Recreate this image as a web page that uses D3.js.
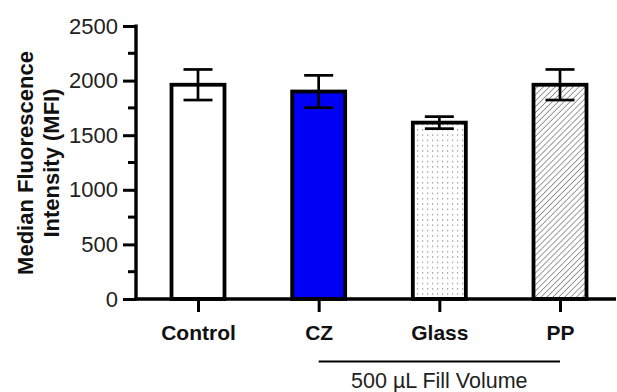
<!DOCTYPE html>
<html lang="en">
  <head>
    <meta charset="UTF-8" />
    <title>MFI by container</title>
    <style>
      body { margin: 0; background: #fff; }
      text { font-family: "Liberation Sans", Arial, sans-serif; }
    </style>
  </head>
  <body>
    <svg id="chart"></svg>
    <script src="https://cdnjs.cloudflare.com/ajax/libs/d3/7.4.4/d3.min.js"></script>
    <script>
      // values
      const categories = ["Control", "CZ", "Glass", "PP"];
      const means = [1962, 1900, 1615, 1962];
      const errors = [140, 148, 55, 140];
      const yTicks = [0, 500, 1000, 1500, 2000, 2500];
      const groupLabel = "500 µL Fill Volume";
      const groupFrom = "CZ";
      const groupTo = "PP";

      const W = 617, H = 392;
      const svg = d3.select("#chart").attr("width", W).attr("height", H);

      const defs = svg.append("defs");
      // dotted fill for glass
      const dots = defs.append("pattern").attr("id", "dots")
        .attr("patternUnits", "userSpaceOnUse").attr("width", 5).attr("height", 5.3);
      dots.append("rect").attr("width", 5).attr("height", 5.3).attr("fill", "#fff");
      dots.append("rect").attr("x", 2).attr("y", 2).attr("width", 1.2).attr("height", 1.2).attr("fill", "#8a8a8a");
      // diagonal hatch for PP
      const hatch = defs.append("pattern").attr("id", "hatch")
        .attr("patternUnits", "userSpaceOnUse").attr("width", 4.2).attr("height", 4.2)
        .attr("patternTransform", "rotate(45)");
      hatch.append("rect").attr("width", 4.2).attr("height", 4.2).attr("fill", "#fff");
      hatch.append("line").attr("x1", 0).attr("y1", 0).attr("x2", 0).attr("y2", 4.2)
        .attr("stroke", "#666").attr("stroke-width", 1.3);

      const fills = ["#ffffff", "#0000f5", "url(#dots)", "url(#hatch)"];

      const x = d3.scalePoint().domain(categories).range([198, 560]);
      const y = d3.scaleLinear().domain([0, 2500]).range([299, 26]);
      const barW = 53;

      // bars
      svg.append("g").selectAll("rect").data(categories).join("rect")
        .attr("x", d => x(d) - barW / 2)
        .attr("y", (d, i) => y(means[i]))
        .attr("width", barW)
        .attr("height", (d, i) => y(0) - y(means[i]))
        .attr("fill", (d, i) => fills[i])
        .attr("stroke", "#000")
        .attr("stroke-width", 3.8);

      // error bars
      const eb = svg.append("g").attr("stroke", "#000").attr("stroke-width", 2.7)
        .selectAll("g").data(categories).join("g");
      eb.append("line")
        .attr("x1", d => x(d)).attr("x2", d => x(d))
        .attr("y1", (d, i) => y(means[i] + errors[i]))
        .attr("y2", (d, i) => y(means[i] - errors[i]));
      [1, -1].forEach(s => {
        eb.append("line")
          .attr("x1", d => x(d) - 14.5).attr("x2", d => x(d) + 14.5)
          .attr("y1", (d, i) => y(means[i] + s * errors[i]))
          .attr("y2", (d, i) => y(means[i] + s * errors[i]));
      });

      // y axis
      const minor = d3.range(250, 2500, 500);
      const yAxis = svg.append("g").attr("transform", "translate(136,0)");
      yAxis.call(d3.axisLeft(y).tickValues(yTicks).tickFormat(d3.format("d"))
        .tickSize(13).tickPadding(5).tickSizeOuter(0));
      yAxis.select(".domain").remove();
      yAxis.selectAll(".tick line").attr("stroke-width", 3);
      yAxis.selectAll(".tick text").attr("font-size", 22).attr("fill", "#222");
      yAxis.append("g").selectAll("line").data(minor).join("line")
        .attr("x1", -8).attr("x2", 0)
        .attr("y1", d => y(d)).attr("y2", d => y(d))
        .attr("stroke", "#000").attr("stroke-width", 3);
      yAxis.append("line").attr("x1", 0).attr("x2", 0)
        .attr("y1", y(2500) - 1.5).attr("y2", y(0) + 1.5)
        .attr("stroke", "#000").attr("stroke-width", 3.4);

      // x axis
      const xAxis = svg.append("g").attr("transform", `translate(0,${y(0)})`);
      xAxis.call(d3.axisBottom(x).tickSize(13).tickPadding(8));
      xAxis.select(".domain").remove();
      xAxis.append("line").attr("x1", 134.5).attr("x2", 616).attr("y1", 0).attr("y2", 0)
        .attr("stroke", "#000").attr("stroke-width", 3.4);
      xAxis.selectAll(".tick line").attr("stroke-width", 3);
      xAxis.selectAll(".tick text").attr("font-size", 21).attr("font-weight", "bold")
        .attr("fill", "#111").attr("dy", "0.95em");

      // group bracket
      svg.append("line")
        .attr("x1", x(groupFrom)).attr("x2", x(groupTo))
        .attr("y1", 361.5).attr("y2", 361.5)
        .attr("stroke", "#000").attr("stroke-width", 2);
      svg.append("text")
        .attr("x", (x(groupFrom) + x(groupTo)) / 2).attr("y", 388)
        .attr("text-anchor", "middle").attr("font-size", 21.5).attr("fill", "#222")
        .text(groupLabel);

      // y title
      const yt = svg.append("text")
        .attr("transform", "translate(33,163) rotate(-90)")
        .attr("text-anchor", "middle").attr("font-size", 22).attr("font-weight", "bold")
        .attr("fill", "#111");
      yt.append("tspan").attr("x", 0).attr("y", 0).text("Median Fluorescence");
      yt.append("tspan").attr("x", 0).attr("y", 26).text("Intensity (MFI)");
    </script>
  </body>
</html>
